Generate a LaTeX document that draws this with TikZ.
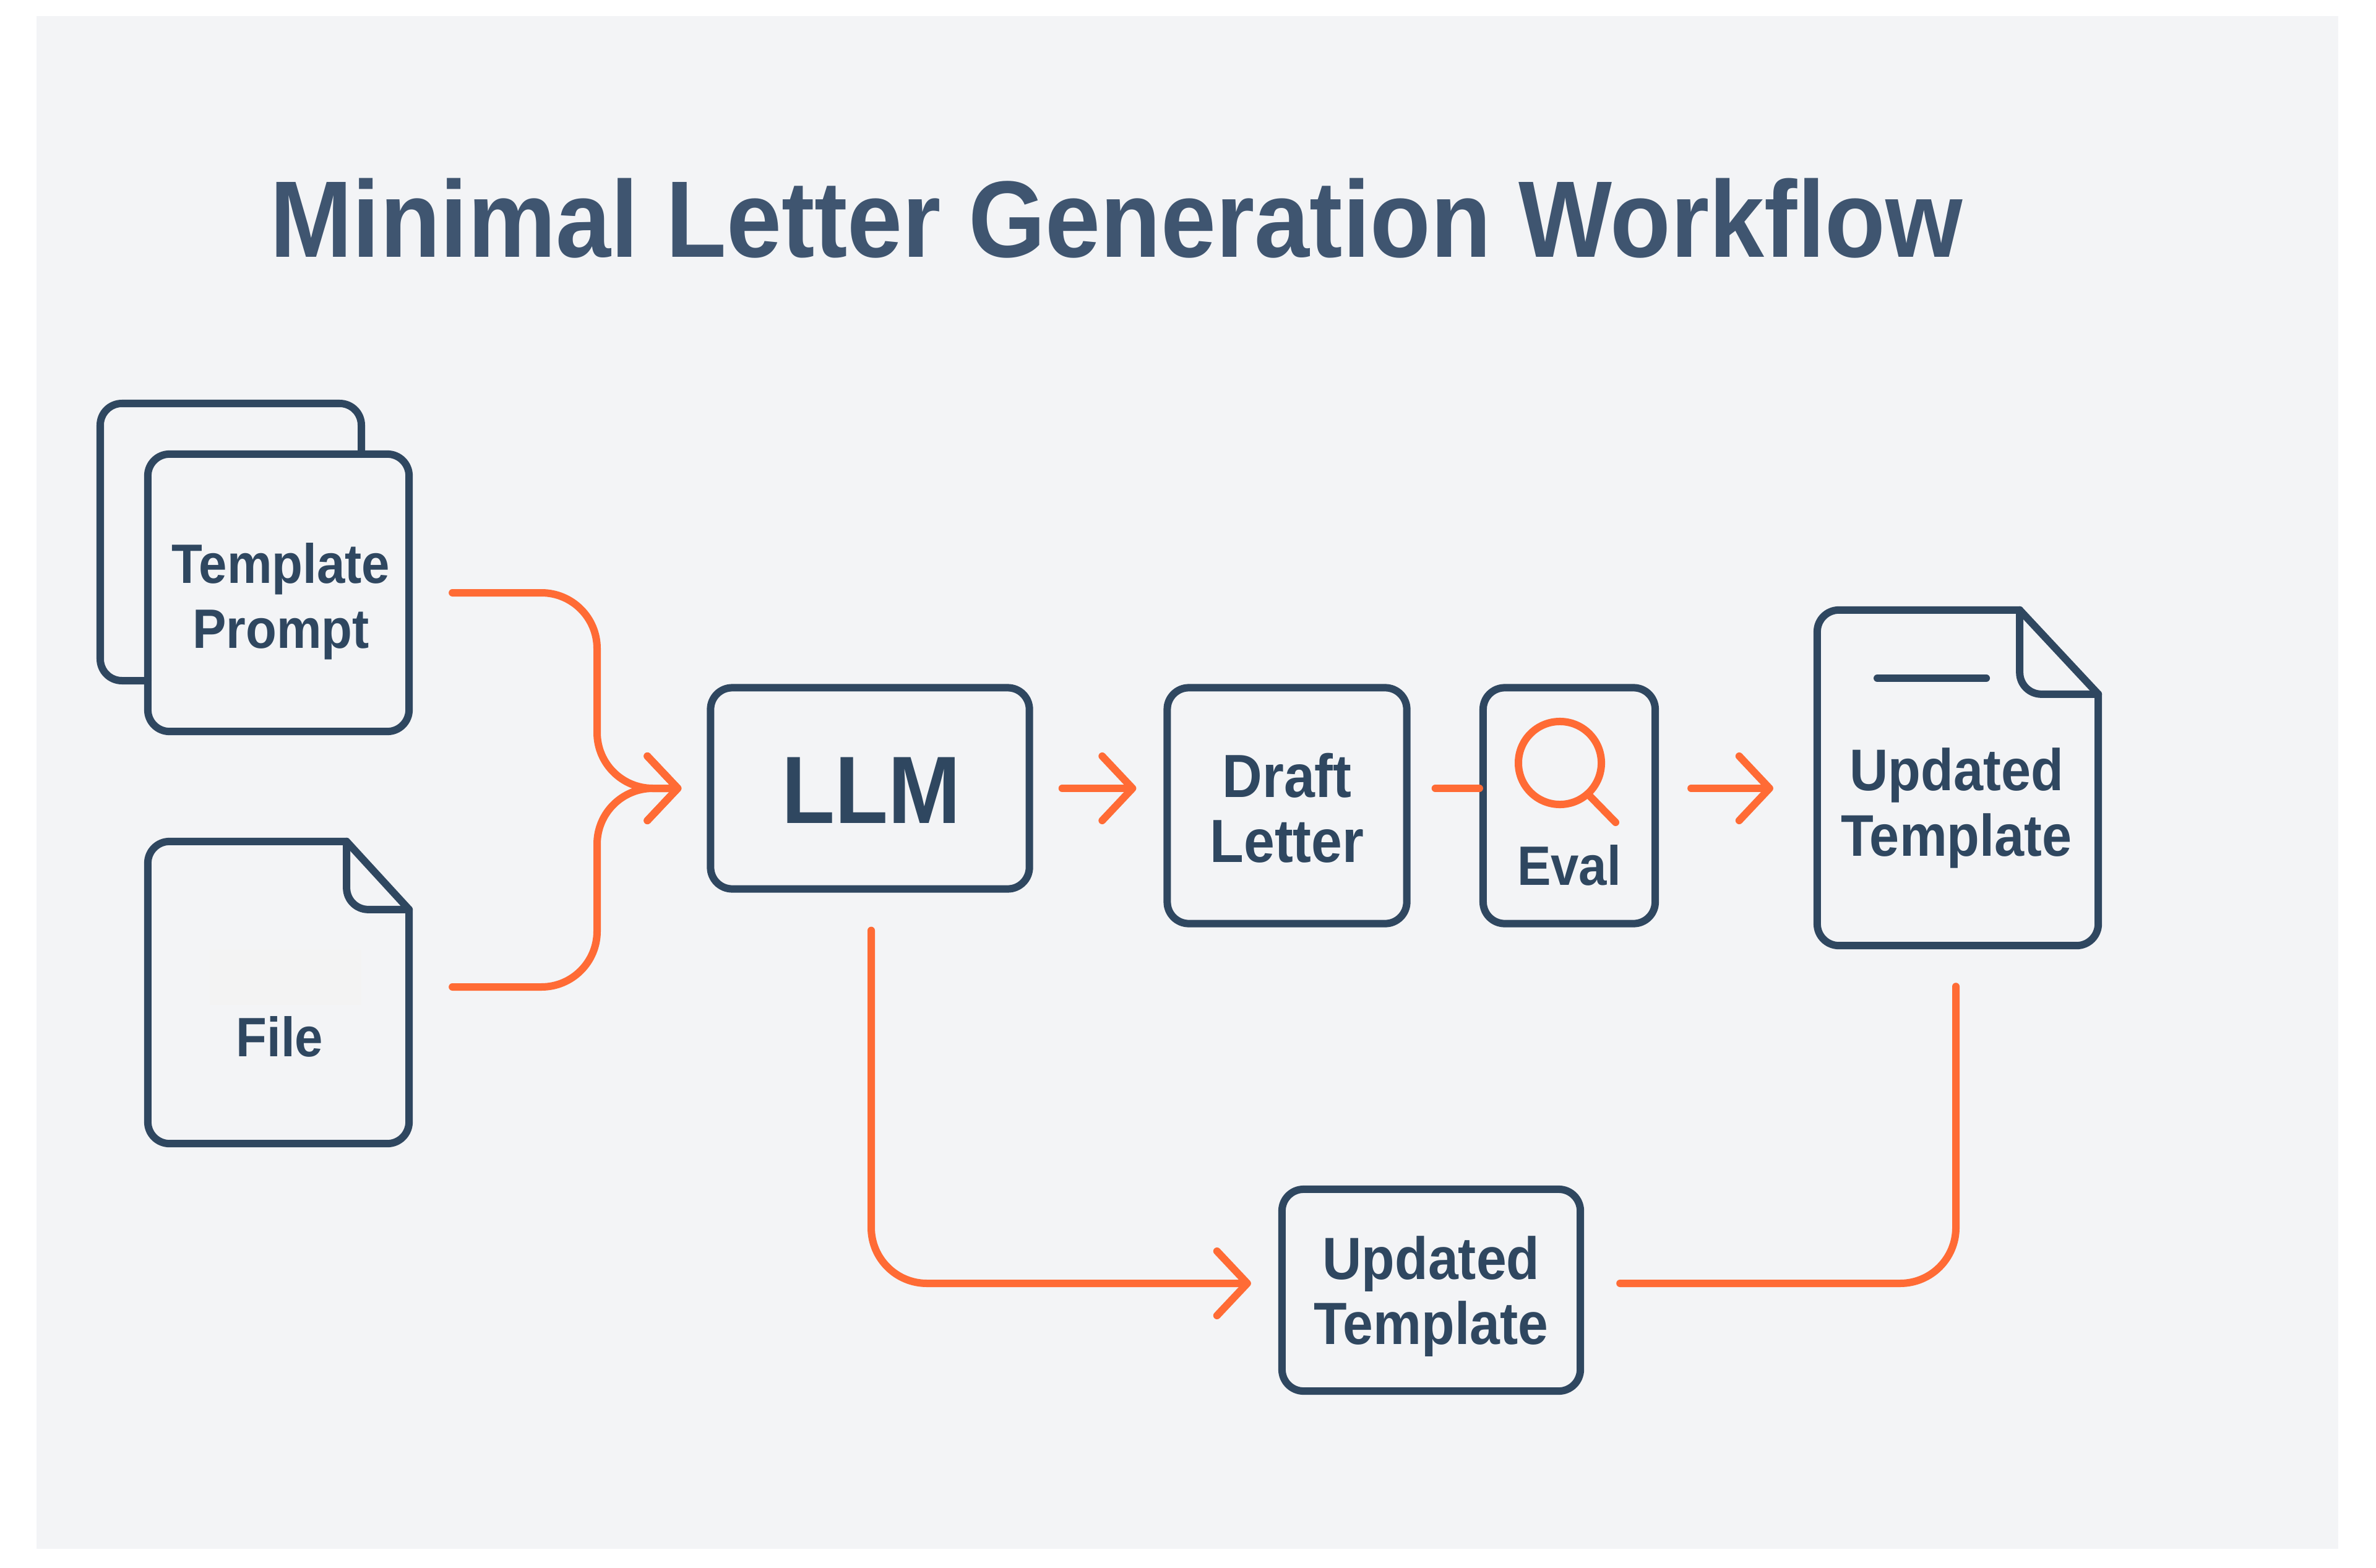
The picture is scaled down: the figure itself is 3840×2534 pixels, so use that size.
\documentclass[tikz,border=0pt]{standalone}
\usepackage{fontspec}
\setmainfont[FakeStretch=.91]{Liberation Sans}
\usetikzlibrary{arrows.meta,calc}
\definecolor{panelbg}{HTML}{F3F4F6}
\definecolor{patchbg}{HTML}{F3F3F3}
\definecolor{titleblue}{HTML}{3F5570}
\definecolor{inkblue}{HTML}{2F4760}
\definecolor{flowred}{HTML}{FF6B35}
\newcommand{\docoutline}[3]{
	\draw[boxline] ($(#1.north east)+(-#2,0)$) -- ($(#1.north east)+(0,#3)$) [rounded corners=.35cm] -- (#1.south east) -- (#1.south west) -- (#1.north west) -- ($(#1.north east)+(-#2,0)$);
	\draw[boxline,rounded corners=.35cm] ($(#1.north east)+(-#2,0)$) -- ($(#1.north east)+(-#2,#3)$) -- ($(#1.north east)+(0,#3)$);
}
\begin{document}
\begin{tikzpicture}[x=.01cm,y=-.01cm]
			\tikzstyle{boxline}=[draw=inkblue,line width=.12cm,line join=round,line cap=round]
			\tikzstyle{bnode}=[rectangle,boxline,rounded corners=.35cm,outer sep=0pt,inner sep=0pt]
			\tikzstyle{dnode}=[rectangle,outer sep=0pt,inner sep=0pt]
			\tikzstyle{tnode}=[inner sep=0pt,text=inkblue,align=center,font=\fontsize{25.5}{30}\selectfont\bfseries]
			\tikzstyle{flow}=[draw=flowred,line width=.12cm,line cap=round,line join=round,rounded corners=.9cm]
			\tikzstyle{tip}=[-{Straight Barb[length=.49cm,width=1.04cm,round]}]
			\useasboundingbox (0,0) rectangle (3840,2534);
			\fill[white] (0,0) rectangle (3840,2534);
			\fill[panelbg] (59,26) rectangle (3779,2503);
			\node[inner sep=0pt,anchor=base,text=titleblue,font=\fontsize{50}{60}\selectfont\bfseries] (title) at (1804,416) {Minimal Letter Generation Workflow};
			\draw[boxline,rounded corners=.35cm] (239,1100) -- (162,1100) -- (162,652) -- (584,652) -- (584,734);
			\node[bnode,minimum width=4.22cm,minimum height=4.48cm] (tprompt) at (450,958) {};
			\node[tnode] (tprompttext) at (454,972) {Template\\Prompt};
			\node[dnode,minimum width=4.22cm,minimum height=4.88cm] (file) at (450,1604) {};
			\fill[patchbg] (339,1535) rectangle (584,1624);
			\docoutline{file}{101}{110}
			\node[tnode] (filetext) at (452,1675) {File};
			\node[bnode,minimum width=5.15cm,minimum height=3.25cm] (llm) at (1406,1274) {};
			\node[tnode,font=\fontsize{44}{50}\selectfont\bfseries] (llmtext) at (1408,1277) {LLM};
			\node[bnode,minimum width=3.87cm,minimum height=3.81cm] (draft) at (2080,1302) {};
			\node[tnode,font=\fontsize{28}{30}\selectfont\bfseries] (drafttext) at (2080,1306) {Draft\\Letter};
			\node[bnode,minimum width=2.78cm,minimum height=3.81cm] (eval) at (2536,1302) {};
			\node[circle,draw=flowred,line width=.12cm,minimum size=1.34cm,inner sep=0pt,outer sep=0pt] (lens) at (2521,1233) {};
			\coordinate (lensend) at (2611,1329);
			\draw[flow] (lens.-48) -- (lensend);
			\node[tnode] (evaltext) at (2536,1398) {Eval};
			\node[dnode,minimum width=4.54cm,minimum height=5.42cm] (updoc) at (3164,1257) {};
			\docoutline{updoc}{127}{136}
			\coordinate (dashleft) at (3034,1096);
			\coordinate (dashright) at (3210,1096);
			\draw[boxline] (dashleft) -- (dashright);
			\node[tnode,font=\fontsize{27}{30}\selectfont\bfseries] (updoctext) at (3162,1306) {Updated\\Template};
			\node[bnode,minimum width=4.82cm,minimum height=3.26cm] (uptemplate) at (2313,2085) {};
			\node[tnode,font=\fontsize{27.4}{30}\selectfont\bfseries] (uptemplatetext) at (2313,2095) {Updated\\Template};
			\coordinate (merge) at (965,1274);
			\draw[flow,tip,shorten <=.7cm,shorten >=.47cm] (tprompt.east) -| (merge) -- (llm.west);
			\draw[flow,tip,shorten <=.7cm,shorten >=.47cm] ([yshift=.09cm]file.east) -| (merge) -- (llm.west);
			\draw[flow,tip,shorten <=.53cm,shorten >=.5cm] (llm.east) -- (llm.east -| draft.west);
			\draw[flow,shorten <=.46cm,shorten >=.06cm] (llm.east -| draft.east) -- (llm.east -| eval.west);
			\draw[flow,tip,shorten <=.58cm,shorten >=.71cm] (llm.east -| eval.east) -- (llm.east -| updoc.west);
			\draw[flow,tip,shorten <=.67cm,shorten >=.5cm] ([xshift=.02cm]llm.south) |- ([yshift=.11cm]uptemplate.west);
			\draw[flow,shorten <=.64cm,shorten >=.66cm] ([yshift=.11cm]uptemplate.east) -| ([xshift=-.03cm]updoc.south);
		\end{tikzpicture}
\end{document}
